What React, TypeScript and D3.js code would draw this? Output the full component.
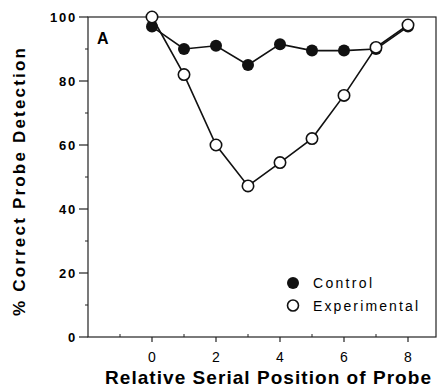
import * as React from "react";
import * as d3 from "d3";

const positions = [0, 1, 2, 3, 4, 5, 6, 7, 8];
const control = [97, 90, 91, 85, 91.5, 89.5, 89.5, 90, 97];
const experimental = [100, 82, 60, 47.2, 54.5, 62, 75.5, 90.5, 97.5];
const yTicks = [0, 20, 40, 60, 80, 100];
const yMinor = [10, 30, 50, 70, 90];
const xTicks = [0, 2, 4, 6, 8];
const xMinor = [-1, 1, 3, 5, 7];

const font = "'Liberation Sans', Arial, Helvetica, sans-serif";

function App() {
  const width = 442;
  const height = 387;
  const left = 88;
  const right = 436;
  const top = 17;
  const bottom = 337;

  const x = d3.scaleLinear().domain([-2, 8.875]).range([left, right]);
  const y = d3.scaleLinear().domain([0, 100]).range([bottom, top]);

  const line = d3
    .line<number>()
    .x((d, i) => x(positions[i]))
    .y((d) => y(d));

  return (
    <svg
      width={width}
      height={height}
      style={{ position: "absolute", left: 0, top: 0, background: "#fff" }}
      fontFamily={font}
    >
      <rect x={0} y={0} width={width} height={height} fill="#fff" />
      {/* frame */}
      <rect
        x={left}
        y={top}
        width={right - left}
        height={bottom - top}
        fill="none"
        stroke="#222"
        strokeWidth={1.2}
      />

      {/* y axis */}
      {yTicks.map((d) => (
        <g key={"y" + d} transform={`translate(${left}, ${y(d)})`}>
          <line x1={-9} x2={0} stroke="#222" strokeWidth={1.2} />
          <text
            x={-11}
            y={0}
            textAnchor="end"
            dominantBaseline="central"
            fontSize={13}
            fontWeight="bold"
            letterSpacing={1.8}
          >
            {d}
          </text>
        </g>
      ))}
      {yMinor.map((d) => (
        <line
          key={"ym" + d}
          x1={left - 3}
          x2={left}
          y1={y(d)}
          y2={y(d)}
          stroke="#222"
        />
      ))}
      <text
        transform={`translate(25, 182) rotate(-90)`}
        textAnchor="middle"
        fontSize={17}
        fontWeight="bold"
        textLength={268}
        lengthAdjust="spacing"
      >
        % Correct Probe Detection
      </text>

      {/* x axis */}
      {xTicks.map((d) => (
        <g key={"x" + d} transform={`translate(${x(d)}, ${bottom})`}>
          <line y1={0} y2={5} stroke="#222" strokeWidth={1.2} />
          <text x={0} y={25} textAnchor="middle" fontSize={14}>
            {d}
          </text>
        </g>
      ))}
      {xMinor.map((d) => (
        <line
          key={"xm" + d}
          x1={x(d)}
          x2={x(d)}
          y1={bottom}
          y2={bottom - 3}
          stroke="#222"
        />
      ))}
      <text
        x={268}
        y={384}
        textAnchor="middle"
        fontSize={19}
        fontWeight="bold"
        textLength={326}
        lengthAdjust="spacing"
      >
        Relative Serial Position of Probe
      </text>

      <text x={97} y={44} fontSize={16} fontWeight="bold">
        A
      </text>

      {/* series */}
      <path d={line(control) ?? ""} fill="none" stroke="#111" strokeWidth={1.6} />
      <path
        d={line(experimental) ?? ""}
        fill="none"
        stroke="#111"
        strokeWidth={1.6}
      />
      {control.map((d, i) => (
        <circle key={"c" + i} cx={x(positions[i])} cy={y(d)} r={6} fill="#111" />
      ))}
      {experimental.map((d, i) => (
        <circle
          key={"e" + i}
          cx={x(positions[i])}
          cy={y(d)}
          r={5.7}
          fill="#fff"
          stroke="#111"
          strokeWidth={1.6}
        />
      ))}

      {/* legend */}
      <g transform="translate(293, 283)">
        <circle r={6} fill="#111" />
        <text x={20} y={0} dominantBaseline="central" fontSize={14} textLength={59} lengthAdjust="spacing">
          Control
        </text>
      </g>
      <g transform="translate(293, 305.5)">
        <circle r={5.5} fill="#fff" stroke="#111" strokeWidth={1.6} />
        <text x={20} y={0} dominantBaseline="central" fontSize={14} textLength={105} lengthAdjust="spacing">
          Experimental
        </text>
      </g>
    </svg>
  );
}

export default App;
